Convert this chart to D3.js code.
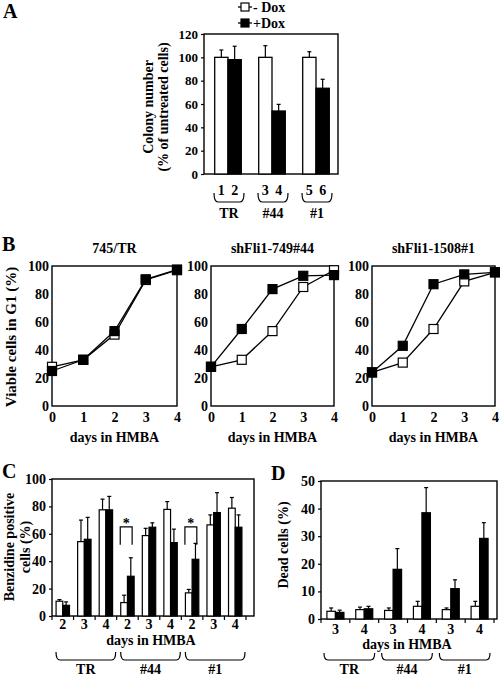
<!DOCTYPE html>
<html>
<head>
<meta charset="utf-8">
<script src="https://cdn.jsdelivr.net/npm/d3@7"></script>
<style>
  body { margin: 0; background: #fff; }
  svg { display: block; }
  text { font-family: 'Liberation Serif', 'Times New Roman', serif; font-weight: bold; fill: #000; }
</style>
</head>
<body>
<script>
// ---------- DATA ----------
// Panel A: colony number (% of untreated cells)
const aGroups = ["TR", "#44", "#1"];
const aBarLabels = ["1", "2", "3", "4", "5", "6"];
const aMinusDox = [100, 100, 100];
const aMinusDoxErr = [6.3, 10, 4.8];
const aPlusDox = [98, 54, 73.5];
const aPlusDoxErr = [11.5, 5.7, 7.7];
const aYTicks = [0, 20, 40, 60, 80, 100, 120];

// Panel B: viable cells in G1 (%)
const bDays = [0, 1, 2, 3, 4];
const bTitles = ["745/TR", "shFli1-749#44", "shFli1-1508#1"];
const b745MinusDox = [28, 33, 51, 90, 97];
const b745PlusDox = [25, 33, 53.5, 90.5, 97.5];
const b749MinusDox = [28, 33, 53.5, 85, 97];
const b749PlusDox = [28, 55, 83.5, 93, 93.5];
const b1508MinusDox = [24, 31, 55, 89, 95.5];
const b1508PlusDox = [24, 43, 87, 94, 95.5];
const bYTicks = [0, 20, 40, 60, 80, 100];

// Panel C: benzidine positive cells (%)
const cCats = ["TR-2", "TR-3", "TR-4", "44-2", "44-3", "44-4", "1-2", "1-3", "1-4"];
const cDayLabels = ["2", "3", "4", "2", "3", "4", "2", "3", "4"];
const cGroupNames = ["TR", "#44", "#1"];
const cMinusDox = [10.8, 54.3, 77.5, 9.8, 58.7, 77.8, 16.9, 66.5, 78.7];
const cMinusDoxErr = [1.2, 15.7, 7.8, 5.4, 5.3, 5.7, 2.5, 7.3, 7.8];
const cPlusDox = [7.8, 56, 77.5, 29, 64.8, 53.6, 41.4, 75.5, 64.8];
const cPlusDoxErr = [2.5, 16, 9.8, 13.5, 3.2, 9.8, 11.6, 14.5, 9];
const cStarCats = ["44-2", "1-2"];
const cYTicks = [0, 20, 40, 60, 80, 100];

// Panel D: dead cells (%)
const dCats = ["TR-3", "TR-4", "44-3", "44-4", "1-3", "1-4"];
const dDayLabels = ["3", "4", "3", "4", "3", "4"];
const dGroupNames = ["TR", "#44", "#1"];
const dMinusDox = [2.8, 3.4, 3.1, 4.6, 3.4, 4.6];
const dMinusDoxErr = [1.2, 0.9, 0.9, 1.8, 0.6, 1.8];
const dPlusDox = [2.4, 3.7, 18, 38.5, 11, 29.2];
const dPlusDoxErr = [0.8, 0.9, 7.5, 9.1, 3.2, 5.7];
const dYTicks = [0, 10, 20, 30, 40, 50];

// ---------- DRAWING ----------
const svg = d3.select("body").append("svg").attr("width", 500).attr("height", 678);

function panelLetter(t, x, y) {
  svg.append("text").attr("x", x).attr("y", y).attr("fill", "#000").style("font-size", "20px").text(t);
}
function bracePath(x0, x1, yTop, yBot, r) {
  return `M${x0},${yTop} Q${x0},${yBot} ${x0 + r},${yBot} L${x1 - r},${yBot} Q${x1},${yBot} ${x1},${yTop}`;
}
function frame(x0, x1, y0, y1) {
  svg.append("rect").attr("x", x0).attr("y", y1).attr("width", x1 - x0).attr("height", y0 - y1)
    .attr("fill", "none").attr("stroke", "#000").attr("stroke-width", 1.4);
}
function yAxis(scale, x, ticks, fs, tickSize) {
  const g = svg.append("g").attr("transform", `translate(${x},0)`)
    .call(d3.axisLeft(scale).tickValues(ticks).tickSize(tickSize).tickPadding(3).tickFormat(d3.format("d")));
  g.select(".domain").remove();
  g.selectAll(".tick line").attr("stroke", "#000").attr("stroke-width", 1.2);
  g.selectAll(".tick text").style("font-size", fs + "px")
    .style("font-family", "'Liberation Serif','Times New Roman',serif").style("font-weight", "bold").attr("fill", "#000");
  return g;
}
function txt(x, y, t, fs) {
  return svg.append("text").attr("x", x).attr("y", y).attr("text-anchor", "middle")
    .attr("fill", "#000").style("font-size", fs + "px").text(t);
}
function rotLabel(lines, cx, cy, fs, lineGap) {
  lines.forEach((l, i) => {
    svg.append("text")
      .attr("transform", `translate(${cx + i * lineGap},${cy}) rotate(-90)`)
      .attr("text-anchor", "middle").attr("dy", "0.35em").attr("fill", "#000")
      .style("font-size", fs + "px").text(l);
  });
}
function errBar(x, yv, ye, cap) {
  svg.append("line").attr("x1", x).attr("x2", x).attr("y1", yv).attr("y2", ye).attr("stroke", "#000").attr("stroke-width", 1.2);
  svg.append("line").attr("x1", x - cap / 2).attr("x2", x + cap / 2).attr("y1", ye).attr("y2", ye).attr("stroke", "#000").attr("stroke-width", 1.2);
}

// ===== Panel A =====
panelLetter("A", 3, 18);
const yA = d3.scaleLinear().domain([0, 120]).range([174, 34]);
const xA = d3.scaleBand().domain(aGroups).range([206, 338]);
const bwA = 13.3;
frame(204, 338, yA(0), yA(120));
yAxis(yA, 204, aYTicks, 13, 3);
aGroups.forEach((g, i) => {
  const c = xA(g) + xA.bandwidth() / 2;
  errBar(c - bwA / 2, yA(aMinusDox[i]), yA(aMinusDox[i] + aMinusDoxErr[i]), 4);
  svg.append("rect").attr("x", c - bwA).attr("y", yA(aMinusDox[i])).attr("width", bwA)
    .attr("height", yA(0) - yA(aMinusDox[i])).attr("fill", "#fff").attr("stroke", "#000").attr("stroke-width", 1.3);
  errBar(c + bwA / 2, yA(aPlusDox[i]), yA(aPlusDox[i] + aPlusDoxErr[i]), 4);
  svg.append("rect").attr("x", c).attr("y", yA(aPlusDox[i])).attr("width", bwA)
    .attr("height", yA(0) - yA(aPlusDox[i])).attr("fill", "#000").attr("stroke", "#000").attr("stroke-width", 1.3);
  txt(c - bwA / 2, 195, aBarLabels[2 * i], 14);
  txt(c + bwA / 2, 195, aBarLabels[2 * i + 1], 14);
  svg.append("path").attr("d", bracePath(c - 14, c + 16, 193, 202, 4)).attr("fill", "none").attr("stroke", "#000").attr("stroke-width", 1.2);
  txt(c + 1, 218, g, 14);
});
rotLabel(["Colony number", "(% of untreated cells)"], 148, 107, 14, 15);
[["- Dox", "#fff", 7], ["+Dox", "#000", 23]].forEach(([t, fill, y]) => {
  svg.append("line").attr("x1", 238).attr("x2", 252).attr("y1", y).attr("y2", y).attr("stroke", "#000").attr("stroke-width", 1.3);
  svg.append("rect").attr("x", 241).attr("y", y - 4).attr("width", 8).attr("height", 8).attr("fill", fill).attr("stroke", "#000").attr("stroke-width", 1.2);
  svg.append("text").attr("x", 253).attr("y", y + 5).attr("fill", "#000").style("font-size", "14px").text(t);
});

// ===== Panel B =====
panelLetter("B", 2, 251);
const yB = d3.scaleLinear().domain([0, 100]).range([406, 266]);
const bRanges = [[52, 177], [211, 334], [372, 495]];
const bSeries = [[b745MinusDox, b745PlusDox], [b749MinusDox, b749PlusDox], [b1508MinusDox, b1508PlusDox]];
bRanges.forEach((r, k) => {
  const x = d3.scaleLinear().domain([0, 4]).range(r);
  frame(r[0], r[1], yB(0), yB(100));
  yAxis(yB, r[0], bYTicks, 14, 0);
  const gx = svg.append("g").attr("transform", `translate(0,${yB(0)})`)
    .call(d3.axisBottom(x).tickValues(bDays).tickSize(0).tickPadding(6).tickFormat(d3.format("d")));
  gx.select(".domain").remove();
  gx.selectAll(".tick text").style("font-size", "14px").style("font-family", "'Liberation Serif','Times New Roman',serif").style("font-weight", "bold").attr("fill", "#000");
  txt((r[0] + r[1]) / 2, 442, "days in HMBA", 14);
  txt((r[0] + r[1]) / 2, 253, bTitles[k], 14);
  const line = d3.line().x((d, i) => x(bDays[i])).y(d => yB(d));
  const [minus, plus] = bSeries[k];
  [[minus, "#fff"], [plus, "#000"]].forEach(([vals, fill]) => {
    svg.append("path").attr("d", line(vals)).attr("fill", "none").attr("stroke", "#000").attr("stroke-width", 1.3);
    vals.forEach((v, i) => {
      svg.append("rect").attr("x", x(bDays[i]) - 4.5).attr("y", yB(v) - 4.5).attr("width", 9).attr("height", 9)
        .attr("fill", fill).attr("stroke", "#000").attr("stroke-width", 1.2);
    });
  });
});
rotLabel(["Viable cells in G1 (%)"], 11, 337, 15, 0);

// ===== Panel C =====
panelLetter("C", 2, 478);
const yC = d3.scaleLinear().domain([0, 100]).range([616, 479]);
const xC = d3.scaleBand().domain(cCats).range([52, 246]);
const bwC = 6.7;
frame(52, 254, yC(0), yC(100));
yAxis(yC, 52, cYTicks, 14, 3);
cCats.forEach((cat, i) => {
  const c = xC(cat) + xC.bandwidth() / 2;
  errBar(c - bwC / 2, yC(cMinusDox[i]), yC(cMinusDox[i] + cMinusDoxErr[i]), 4);
  svg.append("rect").attr("x", c - bwC).attr("y", yC(cMinusDox[i])).attr("width", bwC)
    .attr("height", yC(0) - yC(cMinusDox[i])).attr("fill", "#fff").attr("stroke", "#000").attr("stroke-width", 1.2);
  errBar(c + bwC / 2, yC(cPlusDox[i]), yC(cPlusDox[i] + cPlusDoxErr[i]), 4);
  svg.append("rect").attr("x", c).attr("y", yC(cPlusDox[i])).attr("width", bwC)
    .attr("height", yC(0) - yC(cPlusDox[i])).attr("fill", "#000").attr("stroke", "#000").attr("stroke-width", 1.2);
  txt(c, 629, cDayLabels[i], 14);
});
xC.domain().concat(["end"]).forEach((cat, i) => {
  const tx = i < cCats.length ? xC(cat) : xC.range()[1];
  svg.append("line").attr("x1", tx).attr("x2", tx).attr("y1", yC(0)).attr("y2", yC(0) + 4).attr("stroke", "#000").attr("stroke-width", 1.2);
});
cStarCats.forEach(cat => {
  const c = xC(cat) + xC.bandwidth() / 2;
  const x0 = c - bwC - 0.5, x1 = c + bwC - 2;
  svg.append("path").attr("d", `M${x0},${yC(52)} L${x0},${yC(65)} L${x1},${yC(65)} L${x1},${yC(52)}`)
    .attr("fill", "none").attr("stroke", "#000").attr("stroke-width", 1.2);
  txt((x0 + x1) / 2, yC(65) + 1, "*", 14);
});
txt(151, 645, "days in HMBA", 14);
cGroupNames.forEach((g, i) => {
  const x0 = xC(cCats[3 * i]) + 4, x1 = xC(cCats[3 * i + 2]) + xC.bandwidth() - 1;
  svg.append("path").attr("d", bracePath(x0, x1, 652, 660, 4)).attr("fill", "none").attr("stroke", "#000").attr("stroke-width", 1.2);
  txt((x0 + x1) / 2, 674, g, 14);
});
rotLabel(["Benzidine positive", "cells (%)"], 9, 547, 14, 16);

// ===== Panel D =====
panelLetter("D", 271, 480);
const yD = d3.scaleLinear().domain([0, 50]).range([619, 481]);
const xD = d3.scaleBand().domain(dCats).range([321, 494]);
const bwD = 8.5;
frame(321, 497, yD(0), yD(50));
yAxis(yD, 321, dYTicks, 14, 3);
dCats.forEach((cat, i) => {
  const c = xD(cat) + xD.bandwidth() / 2;
  errBar(c - bwD / 2, yD(dMinusDox[i]), yD(dMinusDox[i] + dMinusDoxErr[i]), 4);
  svg.append("rect").attr("x", c - bwD).attr("y", yD(dMinusDox[i])).attr("width", bwD)
    .attr("height", yD(0) - yD(dMinusDox[i])).attr("fill", "#fff").attr("stroke", "#000").attr("stroke-width", 1.2);
  errBar(c + bwD / 2, yD(dPlusDox[i]), yD(dPlusDox[i] + dPlusDoxErr[i]), 4);
  svg.append("rect").attr("x", c).attr("y", yD(dPlusDox[i])).attr("width", bwD)
    .attr("height", yD(0) - yD(dPlusDox[i])).attr("fill", "#000").attr("stroke", "#000").attr("stroke-width", 1.2);
  txt(c, 634, dDayLabels[i], 14);
});
xD.domain().concat(["end"]).forEach((cat, i) => {
  const tx = i < dCats.length ? xD(cat) : xD.range()[1];
  svg.append("line").attr("x1", tx).attr("x2", tx).attr("y1", yD(0)).attr("y2", yD(0) + 4).attr("stroke", "#000").attr("stroke-width", 1.2);
});
txt(407, 649, "days in HMBA", 14);
dGroupNames.forEach((g, i) => {
  const x0 = xD(dCats[2 * i]) + 3, x1 = xD(dCats[2 * i + 1]) + xD.bandwidth() - 4;
  svg.append("path").attr("d", bracePath(x0, x1, 653, 660, 4)).attr("fill", "none").attr("stroke", "#000").attr("stroke-width", 1.2);
  txt((x0 + x1) / 2, 674, g, 14);
});
rotLabel(["Dead cells (%)"], 283, 545, 14, 0);
</script>
</body>
</html>
